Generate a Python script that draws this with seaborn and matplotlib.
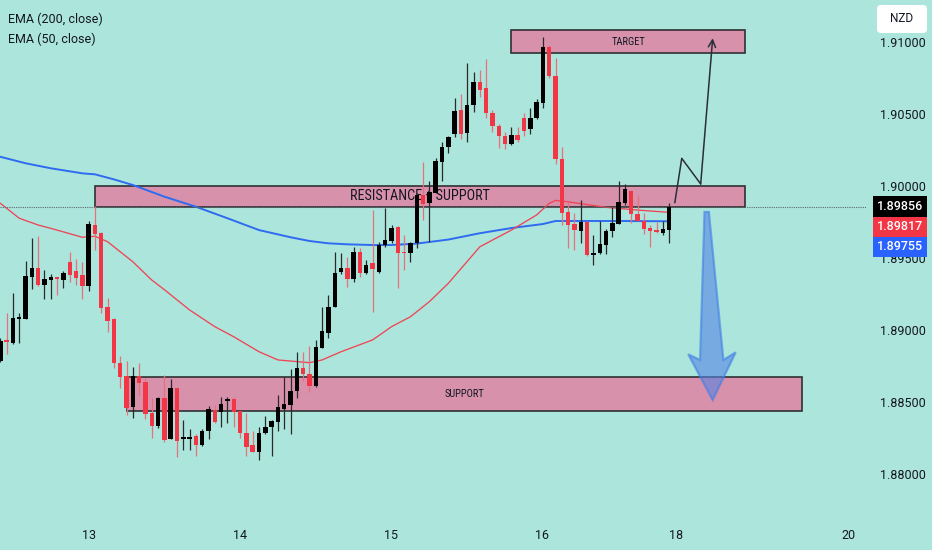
import numpy as np
import pandas as pd
import matplotlib
matplotlib.use("Agg")
import matplotlib.pyplot as plt
import seaborn as sns
from matplotlib import font_manager
from matplotlib.patches import Rectangle, Polygon, FancyBboxPatch
from matplotlib.transforms import IdentityTransform

# ---------------- data ----------------
opens = [1.88787, 1.88924, 1.88908, 1.89076, 1.89074, 1.89370, 1.89433, 1.89310, 1.89349, 1.89368,
         1.89349, 1.89472, 1.89410, 1.89380, 1.89306, 1.89727, 1.89672, 1.89162, 1.89074, 1.88769,
         1.88681, 1.88467, 1.88681, 1.88639, 1.88422, 1.88335, 1.88530, 1.88243, 1.88599, 1.88243,
         1.88243, 1.88266, 1.88203, 1.88301, 1.88444, 1.88428, 1.88509, 1.88519, 1.88438, 1.88287,
         1.88203, 1.88151, 1.88283, 1.88324, 1.88363, 1.88451, 1.88477, 1.88576, 1.88736, 1.88692,
         1.88611, 1.88877, 1.88981, 1.89162, 1.89401, 1.89433, 1.89352, 1.89540, 1.89394, 1.89463,
         1.89405, 1.89590, 1.89620, 1.89715, 1.89544, 1.89537, 1.89606, 1.89938, 1.89880, 1.89953,
         1.90169, 1.90273, 1.90361, 1.90528, 1.90366, 1.90563, 1.90724, 1.90678, 1.90505, 1.90415,
         1.90347, 1.90292, 1.90354, 1.90474, 1.90394, 1.90470, 1.90578, 1.90967, 1.90764, 1.90185,
         1.89817, 1.89736, 1.89685, 1.89752, 1.89519, 1.89533, 1.89590, 1.89688, 1.89736, 1.89880,
         1.89965, 1.89803, 1.89757, 1.89708, 1.89694, 1.89676, 1.89692]
closes = [1.88926, 1.88917, 1.89081, 1.89090, 1.89375, 1.89428, 1.89310, 1.89352, 1.89368, 1.89354,
          1.89396, 1.89380, 1.89363, 1.89306, 1.89734, 1.89669, 1.89155, 1.89065, 1.88769, 1.88676,
          1.88460, 1.88681, 1.88630, 1.88415, 1.88335, 1.88530, 1.88234, 1.88599, 1.88231, 1.88250,
          1.88259, 1.88199, 1.88301, 1.88449, 1.88363, 1.88486, 1.88523, 1.88433, 1.88283, 1.88190,
          1.88151, 1.88287, 1.88328, 1.88368, 1.88467, 1.88488, 1.88578, 1.88738, 1.88694, 1.88611,
          1.88880, 1.88995, 1.89162, 1.89394, 1.89433, 1.89352, 1.89540, 1.89394, 1.89451, 1.89422,
          1.89590, 1.89625, 1.89710, 1.89533, 1.89533, 1.89602, 1.89938, 1.89875, 1.89956, 1.90176,
          1.90273, 1.90338, 1.90523, 1.90359, 1.90565, 1.90724, 1.90667, 1.90505, 1.90417, 1.90347,
          1.90294, 1.90354, 1.90319, 1.90384, 1.90474, 1.90585, 1.90963, 1.90764, 1.90185, 1.89810,
          1.89729, 1.89694, 1.89752, 1.89519, 1.89535, 1.89595, 1.89688, 1.89745, 1.89889, 1.89979,
          1.89806, 1.89757, 1.89701, 1.89690, 1.89683, 1.89701, 1.89856]
highs = [1.88944, 1.89118, 1.89255, 1.89120, 1.89481, 1.89641, 1.89653, 1.89417, 1.89389, 1.89370,
         1.89412, 1.89542, 1.89491, 1.89472, 1.89759, 1.89861, 1.89683, 1.89220, 1.89085, 1.88819,
         1.88785, 1.88745, 1.88769, 1.88669, 1.88526, 1.88532, 1.88688, 1.88660, 1.88600, 1.88375,
         1.88313, 1.88278, 1.88313, 1.88472, 1.88479, 1.88537, 1.88537, 1.88537, 1.88440, 1.88422,
         1.88301, 1.88328, 1.88403, 1.88375, 1.88547, 1.88676, 1.88729, 1.88849, 1.88849, 1.88891,
         1.88931, 1.89162, 1.89243, 1.89540, 1.89533, 1.89505, 1.89578, 1.89567, 1.89486, 1.89833,
         1.89613, 1.89845, 1.89729, 1.89722, 1.89660, 1.89613, 1.89949, 1.90169, 1.90035, 1.90194,
         1.90308, 1.90347, 1.90609, 1.90637, 1.90852, 1.90794, 1.90806, 1.90880, 1.90528, 1.90428,
         1.90377, 1.90408, 1.90412, 1.90505, 1.90540, 1.90602, 1.91037, 1.90981, 1.90887, 1.90269,
         1.89891, 1.89810, 1.89903, 1.89757, 1.89660, 1.89759, 1.89699, 1.89856, 1.90035, 1.90014,
         1.89972, 1.89938, 1.89810, 1.89729, 1.89752, 1.89757, 1.89880]
lows = [1.88778, 1.88833, 1.88906, 1.88908, 1.89073, 1.89283, 1.89309, 1.89217, 1.89213, 1.89245,
        1.89290, 1.89333, 1.89310, 1.89217, 1.89273, 1.89556, 1.89120, 1.88988, 1.88734, 1.88595,
        1.88410, 1.88391, 1.88549, 1.88384, 1.88248, 1.88317, 1.88224, 1.88241, 1.88120, 1.88167,
        1.88167, 1.88127, 1.88194, 1.88241, 1.88356, 1.88328, 1.88352, 1.88328, 1.88248, 1.88127,
        1.88150, 1.88097, 1.88280, 1.88125, 1.88301, 1.88310, 1.88278, 1.88530, 1.88648, 1.88567,
        1.88606, 1.88875, 1.88947, 1.89158, 1.89389, 1.89301, 1.89331, 1.89370, 1.89389, 1.89123,
        1.89398, 1.89578, 1.89602, 1.89290, 1.89417, 1.89474, 1.89567, 1.89764, 1.89613, 1.89951,
        1.90037, 1.90227, 1.90342, 1.90324, 1.90308, 1.90516, 1.90620, 1.90470, 1.90377, 1.90266,
        1.90255, 1.90285, 1.90308, 1.90347, 1.90361, 1.90463, 1.90540, 1.90750, 1.90151, 1.89729,
        1.89567, 1.89556, 1.89606, 1.89515, 1.89451, 1.89530, 1.89530, 1.89648, 1.89734, 1.89868,
        1.89741, 1.89755, 1.89665, 1.89578, 1.89672, 1.89660, 1.89602]

ema200_idx = [0, 4, 8, 13, 15, 18, 21, 26, 31, 36, 41, 46, 49, 52, 55, 59, 62, 66, 71, 76, 81, 86, 88, 93, 98, 106]
ema200_val = [1.90203, 1.90158, 1.90123, 1.90088, 1.90081, 1.90046, 1.90007, 1.89926, 1.89856, 1.89776,
              1.89694, 1.89644, 1.89618, 1.89602, 1.89595, 1.89590, 1.89590, 1.89600, 1.89628, 1.89672,
              1.89708, 1.89736, 1.89757, 1.89757, 1.89757, 1.89755]
ema50_idx = [0, 3, 6, 8, 13, 15, 17, 21, 24, 26, 30, 34, 37, 41, 44, 49, 51, 54, 59, 62, 65, 68, 71,
             76, 81, 85, 87, 88, 90, 96, 101, 106]
ema50_val = [1.89880, 1.89776, 1.89729, 1.89706, 1.89644, 1.89651, 1.89613, 1.89474, 1.89347, 1.89280,
             1.89139, 1.89023, 1.88953, 1.88849, 1.88792, 1.88773, 1.88792, 1.88849, 1.88931, 1.89023,
             1.89092, 1.89197, 1.89324, 1.89578, 1.89694, 1.89799, 1.89880, 1.89900, 1.89890, 1.89852,
             1.89833, 1.89817]

day_labels = ["13", "14", "15", "16", "18", "20"]
day_pos = [14.06, 37.99, 61.85, 85.85, 107.1, 134.35]
price_ticks = [1.880, 1.885, 1.890, 1.895, 1.900, 1.905, 1.910]

zone_names = ["RESISTANCE + SUPPORT", "TARGET", "SUPPORT"]
zone_start = [15.0, 81.0, 20.0]
zone_end = [118.1, 118.1, 127.05]
zone_low = [1.89857, 1.90922, 1.88437]
zone_high = [1.90002, 1.91083, 1.88674]
zone_fontsize = [10.2, 7.6, 7.6]

path_x = [106.9, 108.0, 111.0, 112.9]
path_y = [1.89884, 1.90192, 1.90014, 1.91026]

arrow_x = [111.6, 110.9, 109.03, 112.9, 116.55, 114.6, 112.3]
arrow_y = [1.89820, 1.88792, 1.88831, 1.88514, 1.88845, 1.88792, 1.89820]

legend_labels = ["EMA (200, close)", "EMA (50, close)"]
currency = "NZD"

# ---------------- style ----------------
BG = "#ace5dc"
RED = "#f23645"
BLUE = "#2962ff"
TXT = "#131722"
ZONE = "#d791ab"

sns.set_theme(style="white")
plt.rcParams["font.family"] = ["Roboto", "DejaVu Sans"]
plt.rcParams["figure.facecolor"] = BG
plt.rcParams["axes.facecolor"] = BG

avail = {f.name for f in font_manager.fontManager.ttflist}
narrow = [n for n in ["Liberation Sans Narrow", "Roboto Condensed"] if n in avail]
zone_font = dict(family=narrow[:1] + ["DejaVu Sans"]) if narrow else dict(family=["DejaVu Sans"], stretch="condensed")

fig = plt.figure(figsize=(9.32, 5.5), dpi=100)
ax = fig.add_axes([0, 32 / 550, 866 / 932, 518 / 550])
ax.set_facecolor(BG)

df = pd.DataFrame({"idx": np.arange(len(opens)), "open": opens, "high": highs,
                   "low": lows, "close": closes})
up = df["close"] >= df["open"]

# zones
for name, x0, x1, lo, hi, fs in zip(zone_names, zone_start, zone_end, zone_low, zone_high, zone_fontsize):
    ax.add_patch(Rectangle((x0, lo), x1 - x0, hi - lo, facecolor=ZONE, edgecolor="#2f3033",
                           lw=1.2, zorder=1))
    ax.text((x0 + x1) / 2, (lo + hi) / 2, name, ha="center", va="center", fontsize=fs,
            color=TXT, zorder=1.5, **zone_font)

# EMAs
sns.lineplot(x=ema200_idx, y=ema200_val, ax=ax, color="#2f6bf0", lw=1.4, zorder=2,
             estimator=None, sort=False)
sns.lineplot(x=ema50_idx, y=ema50_val, ax=ax, color="#ef4555", lw=0.95, zorder=2,
             estimator=None, sort=False)

# current price dotted line
ax.axhline(closes[-1], color="#5d6a6d", ls=(0, (1, 1)), lw=0.8, zorder=2.2)

# candles
wick_cols = np.where(up, "#2a2a2a", "#e6707c")
ax.vlines(df["idx"], df["low"], df["high"], colors=wick_cols, lw=0.9, zorder=3)
body_bottom = np.minimum(df["open"], df["close"])
body_h = np.maximum((df["close"] - df["open"]).abs(), 0.00011)
body_cols = np.where(up, "#000000", RED)
ax.bar(df["idx"], body_h, bottom=body_bottom, width=0.7, color=body_cols, lw=0, zorder=4)

# projected path (black zigzag with arrow)
ax.plot(path_x[:3], path_y[:3], color="#2a2e39", lw=1.1, zorder=5)
ax.annotate("", xy=(path_x[3], path_y[3]), xytext=(path_x[2], path_y[2]),
            arrowprops=dict(arrowstyle="->", color="#2a2e39", lw=1.1, mutation_scale=13,
                            shrinkA=0, shrinkB=0), zorder=5)

# blue down arrow
ax.add_patch(Polygon(list(zip(arrow_x, arrow_y)), closed=True, facecolor="#5583e4", alpha=0.6,
                     edgecolor="#3f7fe6", lw=1.6, zorder=5))

# axes
ax.set_xlim(-0.05, 137.2)
ax.set_ylim(1.876944, 1.912917)
for s in ax.spines.values():
    s.set_visible(False)
ax.yaxis.tick_right()
ax.set_yticks(price_ticks)
ax.set_yticklabels([f"{p:.5f}" for p in price_ticks])
ax.set_xticks(day_pos)
ax.set_xticklabels(day_labels)
ax.tick_params(axis="y", length=0, pad=10, labelsize=9, labelcolor=TXT)
ax.tick_params(axis="x", length=0, pad=8, labelsize=9, labelcolor=TXT)
ax.set_xlabel("")
ax.set_ylabel("")
ax.grid(False)

# legend texts
fig.text(8 / 932, 1 - 19 / 550, legend_labels[0], ha="left", va="center", fontsize=9, color=TXT)
fig.text(8 / 932, 1 - 39 / 550, legend_labels[1], ha="left", va="center", fontsize=9, color=TXT)

# currency box
H = 550
fig.patches.append(FancyBboxPatch((877, H - 33), 50, 28, boxstyle="round,pad=0,rounding_size=4",
                                  facecolor="white", edgecolor="none", transform=IdentityTransform(),
                                  figure=fig, zorder=6))
fig.text(902 / 932, 1 - 19 / 550, currency, ha="center", va="center", fontsize=8.5, color=TXT, zorder=7)

# price labels (stacked)
fig.canvas.draw()
y_disp = ax.transData.transform((0, closes[-1]))[1]
labels = [(f"{closes[-1]:.5f}", "#000000", 21), (f"{ema50_val[-1]:.5f}", RED, 19.5),
          (f"{ema200_val[-1]:.5f}", BLUE, 20.5)]
top = y_disp + 10.5
for txt, col, h in labels:
    fig.patches.append(Rectangle((873, top - h), 54, h, facecolor=col, edgecolor="none",
                                 transform=IdentityTransform(), figure=fig, zorder=6))
    fig.text(900 / 932, (top - h / 2) / H, txt, ha="center", va="center", fontsize=9,
             color="white", fontweight="medium", zorder=7)
    top -= h

fig.savefig("out.png", dpi=100, facecolor=BG)
